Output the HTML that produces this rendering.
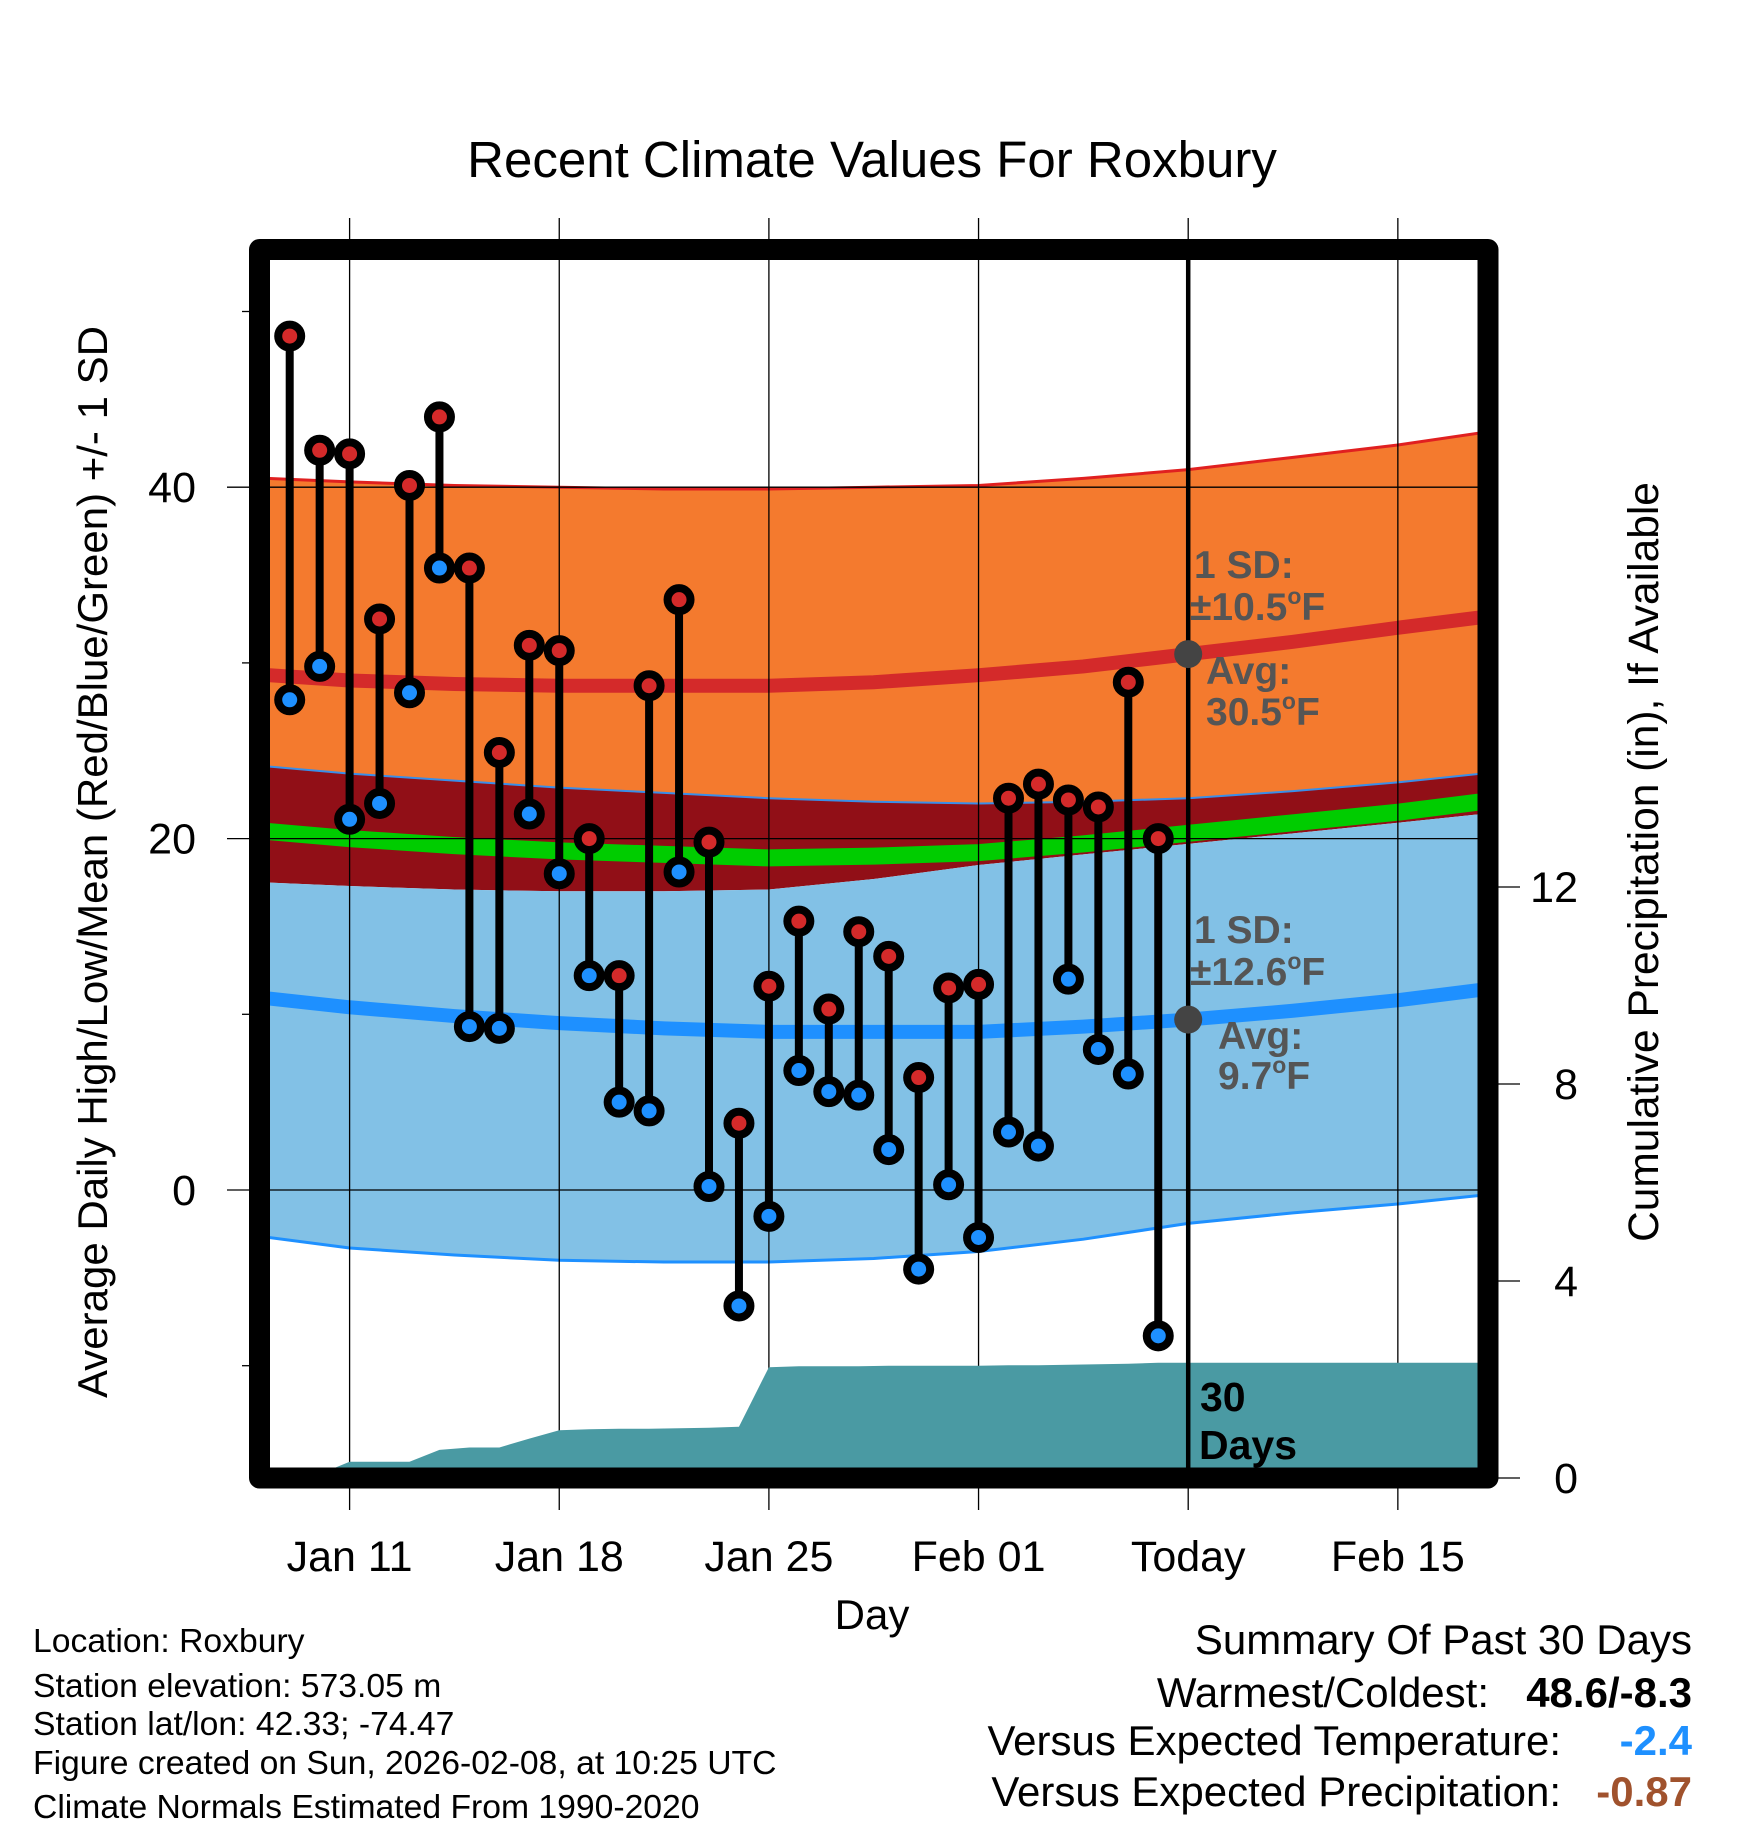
<!DOCTYPE html>
<html><head><meta charset="utf-8"><style>
html,body{margin:0;padding:0;background:#fff}
svg{display:block;font-family:"Liberation Sans",sans-serif}
</style></head><body>
<svg id="chart" width="1748" height="1828" viewBox="0 0 1748 1828" xmlns="http://www.w3.org/2000/svg">
<defs><clipPath id="plotclip"><rect x="270" y="260" width="1208" height="1208"/></clipPath></defs>
<text x="872" y="177" text-anchor="middle" font-size="51">Recent Climate Values For Roxbury</text>
<g id="bands" clip-path="url(#plotclip)"></g>
<g id="grid"></g>
<g id="precip" clip-path="url(#plotclip)"></g>
<g id="marks"></g>
<rect x="259.5" y="249.5" width="1228.5" height="1228.5" fill="none" stroke="#000" stroke-width="21" stroke-linejoin="round"/>
<g id="axes"></g>
<g font-weight="bold" fill="#555" font-size="39">
<text x="1194" y="578">1 SD:</text>
<text x="1190" y="620">±10.5<tspan font-size="23" dy="-16">o</tspan><tspan dy="16">F</tspan></text>
<text x="1206" y="684">Avg:</text>
<text x="1206" y="725">30.5<tspan font-size="23" dy="-16">o</tspan><tspan dy="16">F</tspan></text>
<text x="1194" y="943">1 SD:</text>
<text x="1190" y="985">±12.6<tspan font-size="23" dy="-16">o</tspan><tspan dy="16">F</tspan></text>
<text x="1218" y="1049">Avg:</text>
<text x="1218" y="1089">9.7<tspan font-size="23" dy="-16">o</tspan><tspan dy="16">F</tspan></text>
</g>
<g font-weight="bold" fill="#000" font-size="41">
<text x="1200" y="1411">30</text><text x="1199" y="1459">Days</text></g>
<g font-size="33.7">
<text x="33" y="1652">Location: Roxbury</text>
<text x="33" y="1697">Station elevation: 573.05 m</text>
<text x="33" y="1735">Station lat/lon: 42.33; -74.47</text>
<text x="33" y="1774">Figure created on Sun, 2026-02-08, at 10:25 UTC</text>
<text x="33" y="1818">Climate Normals Estimated From 1990-2020</text>
</g>
<g font-size="42" text-anchor="end">
<text x="1692" y="1654">Summary Of Past 30 Days</text>
<text x="1489" y="1707">Warmest/Coldest:</text>
<text x="1692" y="1707" font-weight="bold">48.6/-8.3</text>
<text x="1561" y="1755">Versus Expected Temperature:</text>
<text x="1692" y="1755" font-weight="bold" fill="#1e90ff">-2.4</text>
<text x="1561" y="1806">Versus Expected Precipitation:</text>
<text x="1692" y="1806" font-weight="bold" fill="#a0522d">-0.87</text>
</g>
</svg>
<script>
// ---- data ----
const dayOffsets = [-2,-1,0,1,2,3,4,5,6,7,8,9,10,11,12,13,14,15,16,17,18,19,20,21,22,23,24,25,26,27];
const highs = [48.6,42.1,41.9,32.5,40.1,44.0,35.4,24.9,31.0,30.7,20.0,12.2,28.7,33.6,19.8,3.8,11.6,15.3,10.3,14.7,13.3,6.4,11.5,11.7,22.3,23.1,22.2,21.8,28.9,20.0];
const lows = [27.9,29.8,21.1,22.0,28.3,35.4,9.3,9.2,21.4,18.0,12.2,5.0,4.5,18.1,0.2,-6.6,-1.5,6.8,5.6,5.4,2.3,-4.5,0.3,-2.7,3.3,2.5,12.0,8.0,6.6,-8.3];
const precipCum = [0,0.08,0.33,0.33,0.33,0.57,0.62,0.62,0.8,0.97,0.99,1.0,1.0,1.01,1.02,1.04,2.25,2.27,2.27,2.27,2.28,2.28,2.28,2.28,2.29,2.29,2.3,2.31,2.32,2.34];
const normDays = [-2.7,0,3.5,7,10.5,14,17.5,21,24.5,28,31.5,35,37.8];
const highPlus = [40.5,40.3,40.1,40.0,39.9,39.9,40.0,40.1,40.5,41.0,41.7,42.4,43.1];
const highAvg = [29.3,29.0,28.8,28.7,28.7,28.7,28.9,29.3,29.8,30.5,31.2,32.0,32.6];
const highMinus = [24.1,23.7,23.3,22.9,22.6,22.3,22.1,22.0,22.1,22.3,22.7,23.2,23.7];
const meanTemp = [20.4,20.0,19.6,19.3,19.1,18.9,19.0,19.2,19.7,20.3,20.9,21.5,22.1];
const lowPlus = [17.5,17.3,17.1,17.0,17.0,17.1,17.7,18.5,19.1,19.7,20.3,20.9,21.4];
const lowAvg = [10.9,10.4,9.9,9.5,9.2,9.0,9.0,9.0,9.3,9.7,10.2,10.8,11.4];
const lowMinus = [-2.7,-3.3,-3.7,-4.0,-4.1,-4.1,-3.9,-3.5,-2.8,-1.9,-1.3,-0.8,-0.3];
const xTickDays = [0,7,14,21,28,35];
const xTickLabels = ["Jan 11","Jan 18","Jan 25","Feb 01","Today","Feb 15"];
const yTicks = [0,20,40];
const yMinor = [-10,10,30,50];
const pTicks = [0,4,8,12];
const todayDay = 28;
// ---- scales ----
const X = d => 349.6 + 29.95*d;
const Y = v => 1190 - 17.57*v;
const P = v => 1478 - 49.25*v;
const NS = "http://www.w3.org/2000/svg";
function mk(tag, attrs, parent){const e=document.createElementNS(NS,tag);for(const k in attrs)e.setAttribute(k,attrs[k]);parent.appendChild(e);return e;}
const bands=document.getElementById('bands'),grid=document.getElementById('grid'),precip=document.getElementById('precip'),marks=document.getElementById('marks'),axes=document.getElementById('axes');
const line = arr => normDays.map((d,i)=>(i?'L':'M')+X(d)+' '+Y(arr[i])).join(' ');
const band = (a,b) => line(a)+' '+normDays.slice().reverse().map((d,j)=>'L'+X(d)+' '+Y(b[normDays.length-1-j])).join(' ')+' Z';
let e;
e=mk('path',{d:band(highPlus,highMinus),fill:'#f47a2e'},bands);


e=mk('path',{d:band(highMinus,lowPlus),fill:'#910f17'},bands);


e=mk('path',{d:band(lowPlus,lowMinus),fill:'#82c1e6'},bands);


e=mk('path',{d:line(meanTemp),fill:'none',stroke:'#00cc00','stroke-width':17},bands);


e=mk('path',{d:line(highAvg),fill:'none',stroke:'#d42a2a','stroke-width':14},bands);


e=mk('path',{d:line(lowAvg),fill:'none',stroke:'#1e90ff','stroke-width':14},bands);


e=mk('path',{d:line(highPlus),fill:'none',stroke:'#e02020','stroke-width':3},bands);


e=mk('path',{d:line(highMinus),fill:'none',stroke:'#3a8ee8','stroke-width':2},bands);


e=mk('path',{d:line(lowMinus),fill:'none',stroke:'#1e90ff','stroke-width':3},bands);


// grid
xTickDays.forEach((d,i)=>{
  e=mk('line',{x1:X(d),x2:X(d),y1:218,y2:1510,stroke:'#000','stroke-width':1.3},grid);
  
  
  e=mk('text',{x:X(d),y:1571,'text-anchor':'middle','font-size':43},axes);
  e.textContent=xTickLabels[i];
  
  
});
yTicks.forEach(v=>{
  e=mk('line',{x1:227,x2:1478,y1:Y(v),y2:Y(v),stroke:'#000','stroke-width':1.3},grid);
  
  
  e=mk('text',{x:196,y:Y(v)+15,'text-anchor':'end','font-size':43},axes);
  e.textContent=v;
  
  
});
yMinor.forEach(v=>{
  e=mk('line',{x1:242,x2:256,y1:Y(v),y2:Y(v),stroke:'#000','stroke-width':1.3},axes);
  
  
});
pTicks.forEach(v=>{
  e=mk('line',{x1:1490,x2:1520,y1:P(v),y2:P(v),stroke:'#000','stroke-width':1.3},axes);
  
  
  e=mk('text',{x:1578,y:P(v)+15,'text-anchor':'end','font-size':43},axes);
  e.textContent=v;
  
  
});
e=mk('text',{x:0,y:0,'text-anchor':'middle','font-size':42,transform:'translate(107 862) rotate(-90)'},axes);
e.textContent='Average Daily High/Low/Mean (Red/Blue/Green) +/- 1 SD';


e=mk('text',{x:0,y:0,'text-anchor':'middle','font-size':42.5,transform:'translate(1658 862) rotate(-90)'},axes);
e.textContent='Cumulative Precipitation (in), If Available';


e=mk('text',{x:872,y:1629,'text-anchor':'middle','font-size':42},axes);
e.textContent='Day';


// precip
let pd='M270 '+P(0)+' L'+X(-2.7)+' '+P(0);
dayOffsets.forEach((d,i)=>{pd+=' L'+X(d)+' '+P(precipCum[i]);});
pd+=' L1478 '+P(precipCum[precipCum.length-1])+' L1478 '+P(0)+' Z';
e=mk('path',{d:pd,fill:'#4a9aa3'},precip);


// today line
e=mk('line',{x1:X(todayDay),x2:X(todayDay),y1:260,y2:1468,stroke:'#000','stroke-width':4.5},marks);


e=mk('circle',{cx:X(todayDay),cy:Y(30.5),r:14,fill:'#444'},marks);


e=mk('circle',{cx:X(todayDay),cy:Y(9.7),r:14,fill:'#444'},marks);


dayOffsets.forEach((d,i)=>{
  e=mk('line',{x1:X(d),x2:X(d),y1:Y(highs[i]),y2:Y(lows[i]),stroke:'#000','stroke-width':8},marks);
  
  
});
dayOffsets.forEach((d,i)=>{
  e=mk('circle',{cx:X(d),cy:Y(highs[i]),r:11.5,fill:'#d42a2a',stroke:'#000','stroke-width':8},marks);
  
  
  e=mk('circle',{cx:X(d),cy:Y(lows[i]),r:11.5,fill:'#1e90ff',stroke:'#000','stroke-width':8},marks);
  
  
});
</script>
</body></html>
